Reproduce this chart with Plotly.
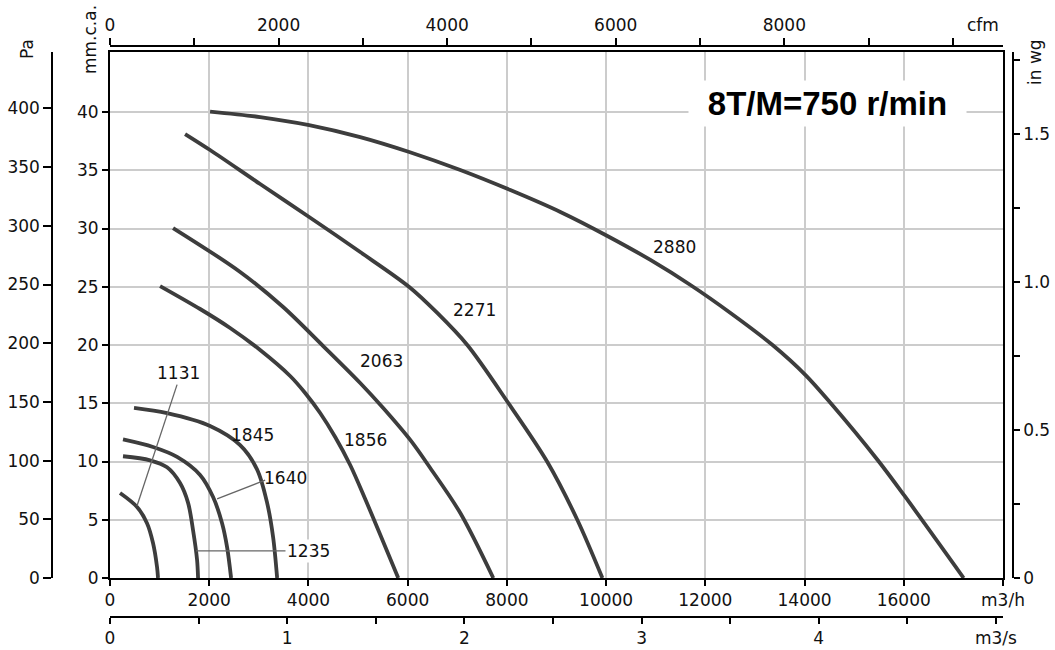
import plotly.graph_objects as go

# ---------------- data: airflow (m3/h) vs static pressure (mm.c.a.) ----------------
q_2880 = [2017, 3026, 4014, 5043, 6032, 7061, 8069, 9078, 10026, 10893, 11700, 12507, 13355, 14020, 14525, 15473, 16017, 17207]
p_2880 = [40.04, 39.57, 38.88, 37.85, 36.57, 35.02, 33.30, 31.42, 29.36, 27.30, 25.15, 22.75, 20.00, 17.42, 15.02, 10.13, 7.04, 0.0]

q_2271 = [1513, 2017, 3026, 4014, 5043, 6032, 6597, 7202, 8029, 8816, 9421, 9925]
p_2271 = [38.11, 36.74, 33.82, 30.99, 27.98, 24.98, 22.75, 20.00, 15.02, 9.96, 4.98, 0.0]

q_2063 = [1271, 2623, 3490, 4297, 5043, 5507, 6052, 6455, 7061, 7726]
p_2063 = [30.04, 26.27, 23.26, 19.91, 16.74, 14.59, 11.85, 9.44, 5.58, 0.0]

q_1856 = [1009, 1816, 2421, 3026, 3631, 3934, 4236, 4539, 4841, 5144, 5810]
p_1856 = [25.06, 23.09, 21.46, 19.57, 17.34, 15.88, 14.16, 12.10, 9.70, 6.78, 0.0]

q_1845 = [484, 1150, 2017, 2623, 2966, 3167, 3288, 3369]
p_1845 = [14.6, 14.15, 13.05, 11.4, 9.3, 6.45, 3.5, 0.0]

q_1640 = [262, 867, 1352, 1816, 2078, 2259, 2360, 2441]
p_1640 = [11.9, 11.25, 10.4, 8.85, 6.95, 4.7, 2.65, 0.0]

q_1235 = [262, 807, 1150, 1412, 1574, 1674, 1755, 1775]
p_1235 = [10.45, 10.1, 9.5, 8.15, 6.45, 4.1, 1.55, 0.0]

q_1131 = [202, 545, 746, 867, 948, 968]
p_1131 = [7.3, 6.1, 4.7, 3.0, 0.95, 0.0]

curves = [
    (q_2880, p_2880), (q_2271, p_2271), (q_2063, p_2063), (q_1856, p_1856),
    (q_1845, p_1845), (q_1640, p_1640), (q_1235, p_1235), (q_1131, p_1131),
]

# curve labels: (text, x m3/h, y mm)
curve_labels = ["2880", "2271", "2063", "1856", "1845", "1640", "1235", "1131"]
label_x = [11378, 7343, 5467, 5144, 2865, 3530, 3994, 1372]
label_y = [28.4, 23.0, 18.6, 11.85, 12.3, 8.6, 2.32, 17.6]
label_bg = [False, False, False, False, False, False, True, False]

# leader lines (label -> curve)
leader_x0 = [1352, 3127, 3591]
leader_y0 = [16.6, 8.4, 2.32]
leader_x1 = [545, 2159, 1735]
leader_y1 = [6.2, 6.8, 2.32]

# axis ticks
mh_ticks = list(range(0, 18001, 2000))
mh_text = [str(v) for v in mh_ticks[:-1]] + ["m3/h"]
ms_ticks = [i * 0.5 for i in range(11)]
ms_text = ["0", "", "1", "", "2", "", "3", "", "4", "", "m3/s"]
cfm_ticks = list(range(0, 10001, 1000))
cfm_text = [str(v) if v % 2000 == 0 and v < 10000 else "" for v in cfm_ticks]
mm_ticks = list(range(0, 41, 5))
pa_ticks = list(range(0, 401, 50))
wg_ticks = [i * 0.25 for i in range(8)]
wg_text = ["0", "", "0.5", "", "1.0", "", "1.5", ""]

TITLE = "8T/M=750 r/min"

# ---------------- figure ----------------
FONT = "DejaVu Sans"
FS = 17
TXT = "#111111"
fig = go.Figure()
for q, p in curves:
    fig.add_trace(go.Scatter(x=q, y=p, mode="lines",
                             line=dict(color="#3d3d3d", width=3.8, shape="spline", smoothing=0.9),
                             showlegend=False, hoverinfo="skip"))

# dummy traces to activate secondary axes
for xa, ya in [("x2", "y"), ("x3", "y"), ("x", "y2"), ("x", "y3")]:
    fig.add_trace(go.Scatter(x=[None], y=[None], xaxis=xa, yaxis=ya, showlegend=False, hoverinfo="skip"))

W, H = 1055, 650
L, R, T, B = 52, 42, 46, 33
pw, ph = W - L - R, H - T - B
xdom = [(110 - L) / pw, (1003 - L) / pw]
ydom = [(H - B - 578) / ph, (H - B - 52) / ph]

tickfont = dict(family=FONT, size=FS, color=TXT)
common = dict(showline=True, linecolor="black", ticks="outside", tickcolor="black", tickfont=tickfont,
              zeroline=False, automargin=False)

fig.update_layout(
    width=W, height=H, margin=dict(l=L, r=R, t=T, b=B, autoexpand=False),
    plot_bgcolor="white", paper_bgcolor="white",
    xaxis=dict(domain=xdom, range=[0, 18000], tickvals=mh_ticks, ticktext=mh_text, ticklen=6, tickwidth=1.5,
               linewidth=2, mirror=True, showgrid=True, gridcolor="#cccccc", gridwidth=1.5, anchor="y", **common),
    yaxis=dict(domain=ydom, range=[0, 45.15], tickvals=mm_ticks, ticklen=6, tickwidth=1.5,
               linewidth=2, mirror=True, showgrid=True, gridcolor="#cccccc", gridwidth=1.5, anchor="x", **common),
    xaxis2=dict(domain=xdom, overlaying="x", anchor="free", position=0, side="bottom", range=[0, 5.04],
                tickvals=ms_ticks, ticktext=ms_text, ticklen=6, tickwidth=1.5, linewidth=1.5, showgrid=False, **common),
    xaxis3=dict(domain=xdom, overlaying="x", anchor="free", position=1, side="top", range=[0, 18000 / 1.699],
                tickvals=cfm_ticks, ticktext=cfm_text, ticklen=7, tickwidth=1.5, linewidth=1.5, showgrid=False, **common),
    yaxis2=dict(domain=ydom, overlaying="y", anchor="free", position=0, side="left", range=[0, 448.1],
                tickvals=pa_ticks, ticklen=8, tickwidth=1.5, linewidth=1.5, showgrid=False, **common),
    yaxis3=dict(domain=ydom, overlaying="y", anchor="free", position=1, side="right", range=[0, 1.7776],
                tickvals=wg_ticks, ticktext=wg_text, ticklen=6, tickwidth=1.5, linewidth=1.5, showgrid=False, **common),
)

def px2paper(px, py):
    return (px - L) / pw, (H - B - py) / ph

anns = []
for t, x, y, bg in zip(curve_labels, label_x, label_y, label_bg):
    a = dict(text=t, x=x, y=y, xref="x", yref="y", showarrow=False, borderpad=1,
             font=dict(family=FONT, size=FS, color=TXT))
    if bg:
        a["bgcolor"] = "white"
    anns.append(a)
anns.append(dict(text="<b>" + TITLE + "</b>", x=14464, y=40.69, xref="x", yref="y", showarrow=False,
                 bgcolor="white", width=269, borderpad=4, font=dict(family="Liberation Sans", size=33, color="black")))
for t, (px, py), ang in [("Pa", (27, 49), -90), ("mm.c.a.", (90, 40), -90), ("in wg", (1035, 62), -90), ("cfm", (983, 25), 0)]:
    ax_, ay_ = px2paper(px, py)
    anns.append(dict(text=t, x=ax_, y=ay_, xref="paper", yref="paper", showarrow=False, textangle=ang,
                     xanchor="center", yanchor="middle", font=dict(family=FONT, size=FS, color=TXT)))
fig.update_layout(annotations=anns)

shapes = []
for x0, y0, x1, y1 in zip(leader_x0, leader_y0, leader_x1, leader_y1):
    shapes.append(dict(type="line", x0=x0, y0=y0, x1=x1, y1=y1, xref="x", yref="y", layer="above",
                       line=dict(color="#666666", width=1.3)))
fig.update_layout(shapes=shapes)

fig.write_html("out.html", config={"displayModeBar": False},
               post_script="document.body.style.margin='0';document.body.style.overflow='hidden';")
